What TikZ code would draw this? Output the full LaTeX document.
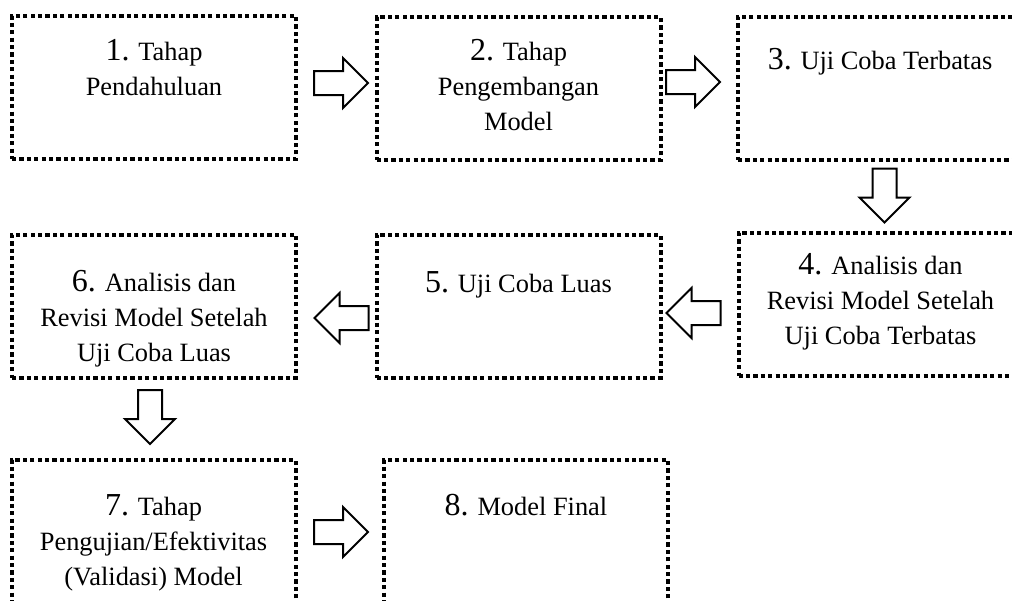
\documentclass[tikz,border=0pt]{standalone}
\usepackage{fontspec}
\setmainfont{Liberation Serif}
\usetikzlibrary{positioning}
\newcommand{\stepno}[1]{{\fontsize{16}{17.5}\selectfont #1}}
\tikzset{
    stepbox/.style={draw, line width=2pt, dash pattern=on 2.1pt off 1.6pt, minimum width=142pt, minimum height=71.5pt, inner sep=0pt, outer sep=0pt},
    steptext/.style={align=center, inner sep=0pt, font=\fontsize{13.2}{17.5}\selectfont},
    blockarrow/.pic={\draw[line width=1pt, fill=white] (-27,-12) -- (2,-12) -- (2,-25) -- (27,0) -- (2,25) -- (2,12) -- (-27,12) -- cycle;}
}
\begin{document}
\begin{tikzpicture}[x=0.5pt, y=-0.5pt]
        \useasboundingbox (0,0) rectangle (1012,600);
        \clip (0,0) rectangle (1012,600);
        \foreach \n/\x/\y in {1/154/87.5, 2/518.5/88.5, 3/880/88, 4/880.5/304, 5/518.5/306, 6/154/306, 7/153.5/531.5, 8/526/531.5}
        {
            \node[stepbox] (b\n) at (\x,\y) {};
        }
        \node[steptext, below=11.5pt of b1.north] (t1) {\stepno{1.} Tahap\\Pendahuluan};
        \node[steptext, below=11pt of b2.north] (t2) {\stepno{2.} Tahap\\Pengembangan\\Model};
        \node[steptext, below=15.5pt of b3.north] (t3) {\stepno{3.} Uji Coba Terbatas};
        \node[steptext, below=10.5pt of b4.north] (t4) {\stepno{4.} Analisis dan\\Revisi Model Setelah\\Uji Coba Terbatas};
        \node[steptext, below=18.5pt of b5.north] (t5) {\stepno{5.} Uji Coba Luas};
        \node[steptext, below=17.5pt of b6.north] (t6) {\stepno{6.} Analisis dan\\Revisi Model Setelah\\Uji Coba Luas};
        \node[steptext, below=17pt of b7.north] (t7) {\stepno{7.} Tahap\\Pengujian/Efektivitas\\(Validasi) Model};
        \node[steptext, below=17pt of b8.north] (t8) {\stepno{8.} Model Final};
        \coordinate (A1) at (341,83);
        \coordinate (A2) at (693,82);
        \coordinate (A3) at (884.5,195.5);
        \coordinate (A4) at (693.5,313);
        \coordinate (A5) at (341.5,318);
        \coordinate (A6) at (150,417);
        \coordinate (A7) at (341,532);
        \foreach \i/\r in {1/0, 2/0, 3/-90, 4/180, 5/180, 6/-90, 7/0}
        {
            \pic[rotate=\r] at (A\i) {blockarrow};
        }
    \end{tikzpicture}
\end{document}
